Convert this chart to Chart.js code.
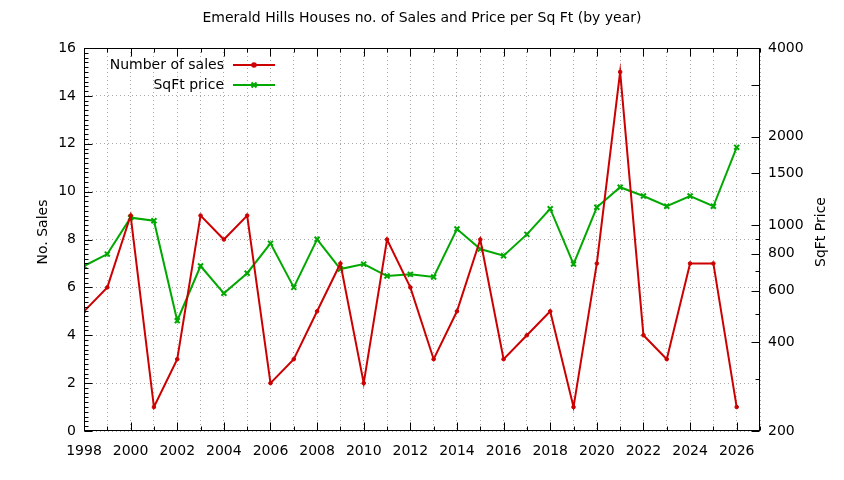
<!DOCTYPE html>
<html><head><meta charset="utf-8">
<script src="https://cdn.jsdelivr.net/npm/chart.js@4.4.1/dist/chart.umd.min.js"></script>
<style>html,body{margin:0;padding:0;background:#fff;overflow:hidden}</style>
</head><body>
<canvas id="c" width="844" height="480"></canvas>
<script>
const chartTitle = 'Emerald Hills Houses no. of Sales and Price per Sq Ft (by year)';
const years = [1998,1999,2000,2001,2002,2003,2004,2005,2006,2007,2008,2009,2010,2011,2012,2013,2014,2015,2016,2017,2018,2019,2020,2021,2022,2023,2024,2025,2026];
const sales = [5,6,9,1,3,9,8,9,2,3,5,7,2,8,6,3,5,8,3,4,5,1,7,15,4,3,7,7,1];
const sqftPrice = [727,798,1061,1036,474,727,587,687,868,615,896,710,738,672,681,667,971,830,788,931,1138,738,1151,1346,1257,1160,1257,1160,1839];
const priceTickLabels = [200,400,600,800,1000,1500,2000,4000];
const priceLongMinor = [3000];
const priceShortMinor = [300,500,700,900];
const salesTitle = 'No. Sales';
const priceTitle = 'SqFt Price';

const FONT = '14px "DejaVu Sans"';
Chart.defaults.font.family = '"DejaVu Sans"';
Chart.defaults.font.size = 14;
Chart.defaults.color = '#000';

const RED = '#cc0000', GREEN = '#00a800';

const frame = {
  id: 'frame',
  afterDraw(chart) {
    const {ctx, chartArea: a, scales} = chart;
    const L = Math.round(a.left) + 0.5, R = Math.round(a.right) - 0.5;
    const T = Math.round(a.top) + 0.5, B = Math.round(a.bottom) - 0.5;
    ctx.save();
    ctx.strokeStyle = '#000';
    ctx.lineWidth = 1;
    ctx.setLineDash([]);
    ctx.strokeRect(L, T, R - L, B - T);
    ctx.beginPath();
    for (let yr = scales.x.min; yr <= scales.x.max; yr++) {
      const px = Math.round(scales.x.getPixelForValue(yr)) + 0.5;
      const len = yr % 2 === 0 ? 8 : 4;
      ctx.moveTo(px, B); ctx.lineTo(px, B - len);
      ctx.moveTo(px, T); ctx.lineTo(px, T + len);
    }
    for (let i = 0; i <= 80; i++) {
      const v = i / 5;
      const py = Math.round(scales.y.getPixelForValue(v)) + 0.5;
      const len = i % 10 === 0 ? 8 : 4;
      ctx.moveTo(L, py); ctx.lineTo(L + len, py);
    }
    const rt = (v, len) => {
      const py = Math.round(scales.y2.getPixelForValue(v)) + 0.5;
      ctx.moveTo(R, py); ctx.lineTo(R - len, py);
    };
    priceTickLabels.forEach(v => rt(v, 8));
    priceLongMinor.forEach(v => rt(v, 8));
    priceShortMinor.forEach(v => rt(v, 4));
    ctx.stroke();

    ctx.font = FONT;
    ctx.fillStyle = '#000';
    ctx.textAlign = 'center';
    ctx.textBaseline = 'middle';
    ctx.save(); ctx.translate(43, 232); ctx.rotate(-Math.PI / 2); ctx.fillText(salesTitle, 0, 0); ctx.restore();
    ctx.save(); ctx.translate(821, 232); ctx.rotate(-Math.PI / 2); ctx.fillText(priceTitle, 0, 0); ctx.restore();

    chart.data.datasets.forEach((ds, i) => {
      const y = 65 + 20 * i;
      ctx.textAlign = 'right';
      ctx.fillStyle = '#000';
      ctx.fillText(ds.label, 224, y);
      ctx.strokeStyle = ds.borderColor;
      ctx.lineWidth = 2;
      ctx.beginPath(); ctx.moveTo(233, y); ctx.lineTo(275, y); ctx.stroke();
      ctx.fillStyle = ds.pointBackgroundColor;
      ctx.strokeStyle = ds.pointBorderColor;
      Chart.helpers.drawPoint(ctx, {pointStyle: ds.pointStyle, radius: ds.pointRadius, borderWidth: ds.pointBorderWidth, rotation: 0}, 254, y);
    });
    ctx.restore();
  }
};

new Chart(document.getElementById('c'), {
  type: 'line',
  data: {
    datasets: [
      {
        label: 'Number of sales',
        data: years.map((y, i) => ({x: y, y: sales[i]})),
        yAxisID: 'y',
        borderColor: RED, backgroundColor: RED,
        pointBackgroundColor: RED, pointBorderColor: RED,
        borderWidth: 2, pointStyle: 'circle', pointRadius: 1.8, pointBorderWidth: 1,
        tension: 0
      },
      {
        label: 'SqFt price',
        data: years.map((y, i) => ({x: y, y: sqftPrice[i]})),
        yAxisID: 'y2',
        borderColor: GREEN, backgroundColor: GREEN,
        pointBackgroundColor: GREEN, pointBorderColor: GREEN,
        borderWidth: 2, pointStyle: 'crossRot', pointRadius: 3.5, pointBorderWidth: 2,
        tension: 0
      }
    ]
  },
  options: {
    responsive: false,
    animation: false,
    devicePixelRatio: 1,
    layout: {padding: 0},
    plugins: {
      legend: {display: false},
      tooltip: {enabled: false},
      title: {
        display: true, text: chartTitle, color: '#000',
        font: {size: 14, weight: 'normal', family: '"DejaVu Sans"'},
        padding: {top: 10, bottom: 21.2}
      }
    },
    scales: {
      x: {
        type: 'linear', min: 1998, max: 2027,
        afterFit: s => { s.height = 49; },
        afterBuildTicks: s => { s.ticks = years.concat([2027]).map(v => ({value: v})); },
        ticks: {
          autoSkip: false, maxRotation: 0, padding: 12,
          callback: v => (v % 2 === 0 && v <= 2026) ? String(v) : ''
        },
        grid: {color: '#a8a8a8', lineWidth: 1, drawTicks: false},
        border: {display: false, dash: [1, 3]}
      },
      y: {
        type: 'linear', position: 'left', min: 0, max: 16,
        afterFit: s => { s.width = 84; },
        ticks: {stepSize: 2, padding: 8},
        grid: {color: '#a8a8a8', lineWidth: 1, drawTicks: false},
        border: {display: false, dash: [1, 3]}
      },
      y2: {
        type: 'logarithmic', position: 'right', min: 200, max: 4000,
        afterFit: s => { s.width = 84; },
        afterBuildTicks: s => { s.ticks = priceTickLabels.map(v => ({value: v, major: true})); },
        ticks: {padding: 8, callback: v => String(v)},
        grid: {drawOnChartArea: false, drawTicks: false},
        border: {display: false}
      }
    }
  },
  plugins: [frame]
});
</script>
</body></html>
